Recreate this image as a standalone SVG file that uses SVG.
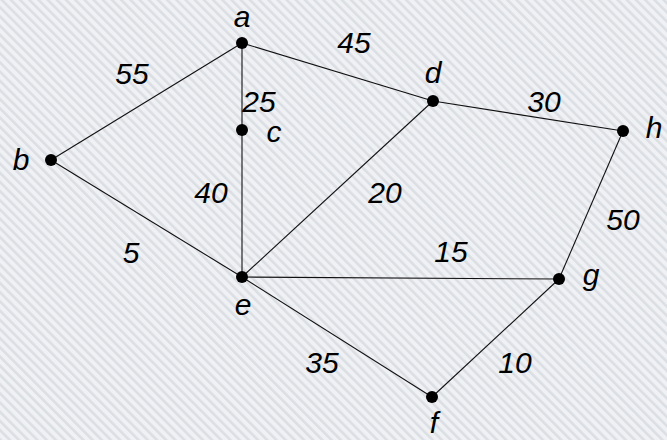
<svg xmlns="http://www.w3.org/2000/svg" width="667" height="440" viewBox="0 0 667 440">
<defs>
<pattern id="hatch" width="6.5" height="6.5" patternUnits="userSpaceOnUse" patternTransform="rotate(-45)">
<rect width="6.5" height="6.5" fill="#eff1f4"/>
<rect width="2.6" height="6.5" fill="#dbdfe3"/>
</pattern>
<style>
.edge{stroke:#111;stroke-width:1.1;fill:none}
.dot{fill:#000}
.lbl{font-family:"Liberation Sans",Arial,sans-serif;font-style:italic;font-size:30px;fill:#000;text-anchor:middle}
</style>
</defs>
<rect width="667" height="440" fill="url(#hatch)"/>
<g id="connectors">
<line class="edge" x1="242" y1="43" x2="51" y2="160"/>
<line class="edge" x1="242" y1="43" x2="433" y2="101"/>
<line class="edge" x1="242" y1="43" x2="242" y2="277"/>
<line class="edge" x1="433" y1="101" x2="623" y2="131"/>
<line class="edge" x1="433" y1="101" x2="242" y2="277"/>
<line class="edge" x1="51" y1="160" x2="242" y2="277"/>
<line class="edge" x1="242" y1="277" x2="559" y2="279"/>
<line class="edge" x1="242" y1="277" x2="432" y2="397"/>
<line class="edge" x1="623" y1="131" x2="559" y2="279"/>
<line class="edge" x1="559" y1="279" x2="432" y2="397"/>
</g>
<g id="weights">
<text class="lbl" x="132" y="84">55</text>
<text class="lbl" x="354" y="53">45</text>
<text class="lbl" x="259" y="112">25</text>
<text class="lbl" x="544" y="112">30</text>
<text class="lbl" x="211" y="203">40</text>
<text class="lbl" x="385" y="203">20</text>
<text class="lbl" x="623" y="230">50</text>
<text class="lbl" x="131" y="263">5</text>
<text class="lbl" x="451" y="262">15</text>
<text class="lbl" x="322" y="373">35</text>
<text class="lbl" x="515" y="373">10</text>
</g>
<g id="node-a"><circle class="dot" cx="242" cy="43" r="6"/><text class="lbl" x="242" y="27">a</text></g>
<g id="node-b"><circle class="dot" cx="51" cy="160" r="6"/><text class="lbl" x="21" y="170">b</text></g>
<g id="node-c"><circle class="dot" cx="242" cy="130" r="6"/><text class="lbl" x="274" y="142">c</text></g>
<g id="node-d"><circle class="dot" cx="433" cy="101" r="6"/><text class="lbl" x="433" y="83">d</text></g>
<g id="node-e"><circle class="dot" cx="242" cy="277" r="6"/><text class="lbl" x="243" y="315">e</text></g>
<g id="node-f"><circle class="dot" cx="432" cy="397" r="6"/><text class="lbl" x="434" y="433">f</text></g>
<g id="node-g"><circle class="dot" cx="559" cy="279" r="6"/><text class="lbl" x="591" y="285">g</text></g>
<g id="node-h"><circle class="dot" cx="623" cy="131" r="6"/><text class="lbl" x="654" y="138">h</text></g>
</svg>
